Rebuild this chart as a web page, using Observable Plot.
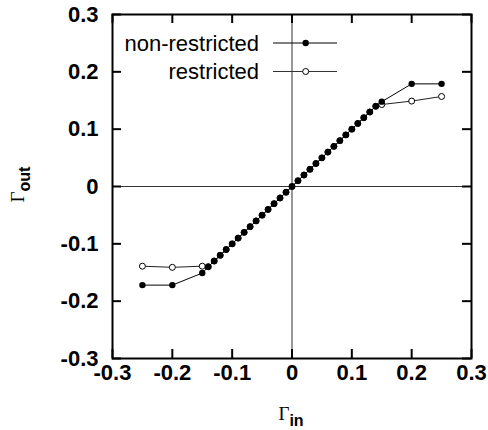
<!DOCTYPE html>
<html>
<head>
<meta charset="utf-8">
<script src="https://cdn.jsdelivr.net/npm/d3@7"></script>
<script src="https://cdn.jsdelivr.net/npm/@observablehq/plot@0.6"></script>
<style>
  html, body { margin: 0; padding: 0; background: #fff; }
</style>
</head>
<body>
<div id="chart"></div>
<script>
const gammaIn = [-0.25, -0.2, -0.15, -0.14, -0.13, -0.12, -0.11, -0.1, -0.09, -0.08, -0.07, -0.06, -0.05, -0.04, -0.03, -0.02, -0.01, 0, 0.01, 0.02, 0.03, 0.04, 0.05, 0.06, 0.07, 0.08, 0.09, 0.1, 0.11, 0.12, 0.13, 0.14, 0.15, 0.2, 0.25];
const outNonRestricted = [-0.172, -0.172, -0.151, -0.14, -0.13, -0.12, -0.11, -0.1, -0.09, -0.08, -0.07, -0.06, -0.05, -0.04, -0.03, -0.02, -0.01, 0, 0.01, 0.02, 0.03, 0.04, 0.05, 0.06, 0.07, 0.08, 0.09, 0.1, 0.11, 0.12, 0.13, 0.14, 0.148, 0.179, 0.179];
const outRestricted = [-0.139, -0.141, -0.139, -0.14, -0.13, -0.12, -0.11, -0.1, -0.09, -0.08, -0.07, -0.06, -0.05, -0.04, -0.03, -0.02, -0.01, 0, 0.01, 0.02, 0.03, 0.04, 0.05, 0.06, 0.07, 0.08, 0.09, 0.1, 0.11, 0.12, 0.13, 0.14, 0.143, 0.149, 0.157];
const tickValues = [-0.3, -0.2, -0.1, 0, 0.1, 0.2, 0.3];
const seriesNames = ["non-restricted", "restricted"];

const nonRestricted = gammaIn.map((x, i) => ({x, y: outNonRestricted[i]}));
const restricted = gammaIn.map((x, i) => ({x, y: outRestricted[i]}));

const W = 488, H = 430;
const mL = 112, mR = 17, mT = 14, mB = 72;
const innerW = W - mL - mR, innerH = H - mT - mB;
const tickLen = 9;
const fmt = d => d === 0 ? "0" : d.toFixed(1);
const font = "'Liberation Sans', Arial, Helvetica, sans-serif";
const serif = "'Liberation Serif', 'Times New Roman', serif";

const svg = Plot.plot({
  width: W, height: H,
  marginLeft: mL, marginRight: mR, marginTop: mT, marginBottom: mB,
  style: {fontFamily: font, fontSize: "22px", fontWeight: "bold", background: "#fff", color: "#000"},
  x: {domain: [-0.3, 0.3], ticks: tickValues, tickFormat: fmt, tickSize: 0, tickPadding: 6, label: null},
  y: {domain: [-0.3, 0.3], ticks: tickValues, tickFormat: fmt, tickSize: 0, tickPadding: 14, label: null},
  marks: [
    Plot.ruleX([0], {stroke: "#333", strokeWidth: 1}),
    Plot.ruleY([0], {stroke: "#333", strokeWidth: 1}),
    // inward ticks on all four sides
    Plot.tickX(tickValues, {x: d => d, insetTop: innerH - tickLen, stroke: "#000", strokeWidth: 2}),
    Plot.tickX(tickValues, {x: d => d, insetBottom: innerH - tickLen, stroke: "#000", strokeWidth: 2}),
    Plot.tickY(tickValues, {y: d => d, insetRight: innerW - tickLen, stroke: "#000", strokeWidth: 2}),
    Plot.tickY(tickValues, {y: d => d, insetLeft: innerW - tickLen, stroke: "#000", strokeWidth: 2}),
    Plot.line(restricted, {x: "x", y: "y", stroke: "#222", strokeWidth: 1}),
    Plot.dot(restricted, {x: "x", y: "y", r: 3, stroke: "#000", strokeWidth: 1, fill: "#fff"}),
    Plot.line(nonRestricted, {x: "x", y: "y", stroke: "#000", strokeWidth: 1}),
    Plot.dot(nonRestricted, {x: "x", y: "y", r: 3.2, fill: "#000", stroke: "none"}),
    Plot.frame({stroke: "#000", strokeWidth: 2})
  ]
});

const s = d3.select(svg);
// legend
const legendRows = [{name: seriesNames[0], y: 43, filled: true}, {name: seriesNames[1], y: 71.5, filled: false}];
const lg = s.append("g").attr("font-family", font).attr("font-size", 22).attr("font-weight", "normal");
for (const r of legendRows) {
  lg.append("text").attr("x", 259).attr("y", r.y).attr("dy", "0.35em").attr("text-anchor", "end").attr("fill", "#000").text(r.name);
  lg.append("line").attr("x1", 273).attr("x2", 337).attr("y1", r.y).attr("y2", r.y).attr("stroke", r.filled ? "#000" : "#333").attr("stroke-width", 1);
  lg.append("circle").attr("cx", 305.7).attr("cy", r.y).attr("r", r.filled ? 3.2 : 3)
    .attr("fill", r.filled ? "#000" : "#fff").attr("stroke", r.filled ? "none" : "#000").attr("stroke-width", 1);
}
// axis labels
const xl = s.append("text").attr("x", 291).attr("y", 420).attr("text-anchor", "middle").attr("fill", "#000");
xl.append("tspan").attr("font-family", serif).attr("font-size", 19).attr("font-weight", "normal").text("Γ");
xl.append("tspan").attr("font-family", font).attr("font-size", 16).attr("font-weight", "bold").attr("dy", 6).text("in");

const yl = s.append("text").attr("transform", "translate(23.5,184.5) rotate(-90)").attr("text-anchor", "middle").attr("fill", "#000");
yl.append("tspan").attr("font-family", serif).attr("font-size", 19).attr("font-weight", "normal").text("Γ");
yl.append("tspan").attr("font-family", font).attr("font-size", 16).attr("font-weight", "bold").attr("dy", 6).text("out");

document.getElementById("chart").appendChild(svg);
</script>
</body>
</html>
